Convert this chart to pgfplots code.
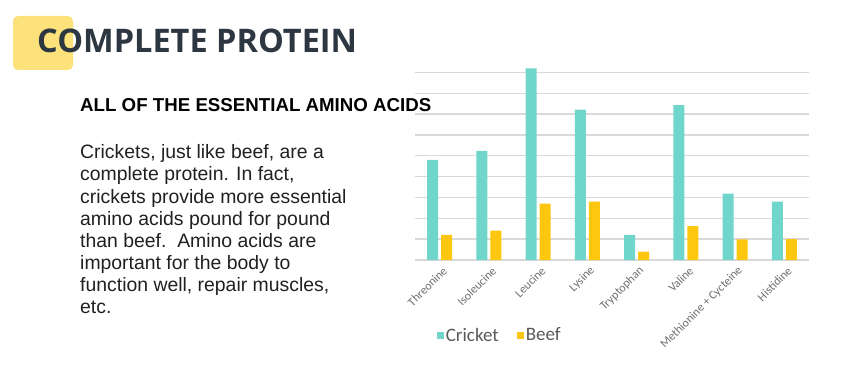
\documentclass[border=0pt]{standalone}
\usepackage{pgfplots}
\pgfplotsset{compat=1.18}
\usepackage{fontspec}
\setmainfont{Liberation Sans}
\newfontfamily\titlefont{Open Sans}
\newfontfamily\calibri{Carlito}
\definecolor{cricket}{HTML}{70D6CB}
\definecolor{beef}{HTML}{FEC70F}
\definecolor{titlecol}{HTML}{2D3741}
\definecolor{hl}{HTML}{FDE17A}
\definecolor{bodycol}{HTML}{231F20}
\definecolor{tickcol}{HTML}{595959}
\definecolor{ticklab}{HTML}{6E6E6E}
\begin{document}
\begin{tikzpicture}
\useasboundingbox (0,0) rectangle (845pt,-366pt);
\fill[hl, rounded corners=5pt] (13pt,-16pt) rectangle (73pt,-70pt);
\node[anchor=base west, inner sep=0, text=titlecol] at (37pt,-53pt) {\titlefont\bfseries\fontsize{32.5}{36}\selectfont COMPLETE PROTEIN};
\node[anchor=base west, inner sep=0, text=black] at (80pt,-112pt) {\bfseries\fontsize{18.7}{20}\selectfont ALL OF THE ESSENTIAL AMINO ACIDS};
\foreach \t [count=\i] in {{Crickets, just like beef, are a},{complete protein. In fact,},{crickets provide more essential},{amino acids pound for pound},{than beef.\ \ Amino acids are},{important for the body to},{function well, repair muscles,},{etc.}}{
  \node[anchor=base west, inner sep=0, text=bodycol] at (80pt,{-159pt-22pt*(\i-1)}) {\fontsize{19.4}{22}\selectfont \t};
}
\begin{axis}[
  at={(415pt,-260pt)}, anchor=south west,
  scale only axis, width=394pt, height=192.9pt,
  ybar=3pt, bar width=11pt,
  xmin=-0.5, xmax=7.5, ymin=0, ymax=9.25,
  ytick={0,1,...,9}, yticklabels={},
  xtick={0,...,7},
  xticklabels={Threonine,Isoleucine,Leucine,Lysine,Tryptophan,Valine,Methionine + Cycteine,Histidine},
  x tick label style={rotate=45, anchor=east, font=\calibri\fontsize{12}{14}\selectfont, text=ticklab, yshift=-7pt, xshift=4pt},
  ymajorgrids, major grid style={draw=black!15, line width=1.3pt},
  axis line style={draw=none}, tick style={draw=none},
  legend columns=2,
  legend style={at={(0.055,-0.39)}, anchor=west, draw=none, fill=none, font=\calibri\fontsize{19}{21}\selectfont, text=tickcol, /tikz/every even column/.append style={column sep=16pt}, inner sep=0pt, /tikz/every node/.append style={inner xsep=2pt}},
  legend image code/.code={\fill[#1, draw=none] (0pt,-3.5pt) rectangle (7pt,3.5pt);},
]
\addplot[fill=cricket, draw=none] coordinates {(0,4.8) (1,5.23) (2,9.19) (3,7.21) (4,1.2) (5,7.43) (6,3.18) (7,2.8)};
\addplot[fill=beef, draw=none] coordinates {(0,1.2) (1,1.41) (2,2.7) (3,2.8) (4,0.4) (5,1.63) (6,0.99) (7,1.0)};
\legend{Cricket, Beef}
\end{axis}
\end{tikzpicture}
\end{document}
